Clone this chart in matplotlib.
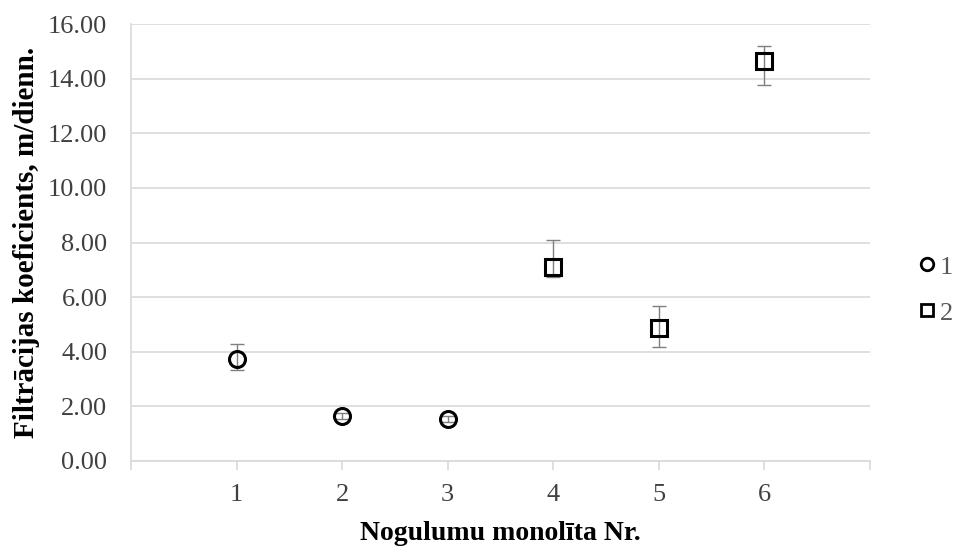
import numpy as np
import matplotlib.pyplot as plt
from matplotlib.lines import Line2D

# series 1 - circles
x1 = [1, 2, 3]
y1 = [3.74, 1.65, 1.53]
err1_lo = [0.41, 0.10, 0.10]
err1_hi = [0.55, 0.10, 0.10]

# series 2 - squares
x2 = [4, 5, 6]
y2 = [7.10, 4.87, 14.65]
err2_lo = [0.36, 0.70, 0.88]
err2_hi = [0.99, 0.81, 0.55]

series_names = ["1", "2"]
yticks = np.arange(0, 17, 2)
xticks = [1, 2, 3, 4, 5, 6]

plt.rcParams['font.family'] = ['Liberation Serif', 'DejaVu Serif']

fig = plt.figure(figsize=(9.57, 5.46), dpi=100)
ax = fig.add_axes([0.1369, 0.1557, 0.7722, 0.8003])

grid_col = "#d9d9d9"
err_col = "#7f7f7f"
txt_col = "#404040"

#GRIDLINES BEHIND THE MARKERS
ax.set_axisbelow(True)
ax.yaxis.grid(True, color=grid_col, lw=1.2)

#ERROR BARS AND MARKERS
ax.errorbar(x1, y1, yerr=[err1_lo, err1_hi], fmt='none', ecolor=err_col,
            elinewidth=1.0, capsize=5, capthick=1.0, zorder=2)
ax.errorbar(x2, y2, yerr=[err2_lo, err2_hi], fmt='none', ecolor=err_col,
            elinewidth=1.0, capsize=5, capthick=1.0, zorder=2)
ax.plot(x1, y1, linestyle='none', marker='o', markersize=11.5, markerfacecolor='none',
        markeredgecolor='black', markeredgewidth=2.2, zorder=3)
ax.plot(x2, y2, linestyle='none', marker='s', markersize=11.5, markerfacecolor='none',
        markeredgecolor='black', markeredgewidth=2.2, zorder=3)

#AXES LIMITS AND TICKS
ax.set_xlim(0, 7)
ax.set_ylim(0, 16)
ax.set_yticks(yticks)
ax.set_yticklabels([f"{v:.2f}" for v in yticks])
ax.set_xticks(range(0, 8))
ax.set_xticklabels([""] + [str(v) for v in xticks] + [""])
ax.tick_params(axis='y', length=0, labelsize=19, labelcolor=txt_col, pad=17)
ax.tick_params(axis='x', length=6.5, width=1.2, color=grid_col, labelsize=19,
               labelcolor=txt_col, pad=10)

for side in ['top', 'right']:
    ax.spines[side].set_visible(False)
for side in ['left', 'bottom']:
    ax.spines[side].set_color(grid_col)
    ax.spines[side].set_linewidth(1.2)

ax.set_xlabel("Nogulumu monolīta Nr.", fontsize=20, fontweight='bold', labelpad=11)
ax.set_ylabel("Filtrācijas koeficients, m/dienn.", fontsize=21, fontweight='bold', labelpad=6)

#LEGEND ON THE RIGHT
handles = [
    Line2D([], [], linestyle='none', marker='o', markersize=9, markerfacecolor='none',
           markeredgecolor='black', markeredgewidth=2.0),
    Line2D([], [], linestyle='none', marker='s', markersize=9, markerfacecolor='none',
           markeredgecolor='black', markeredgewidth=2.0),
]
leg = fig.legend(handles, series_names, loc='center left', bbox_to_anchor=(0.960, 0.469),
                 frameon=False, fontsize=19, handlelength=0.6, handletextpad=0.2,
                 labelspacing=0.85, borderpad=0, borderaxespad=0)
for t in leg.get_texts():
    t.set_color("#595959")

fig.savefig("out.png", dpi=100)
